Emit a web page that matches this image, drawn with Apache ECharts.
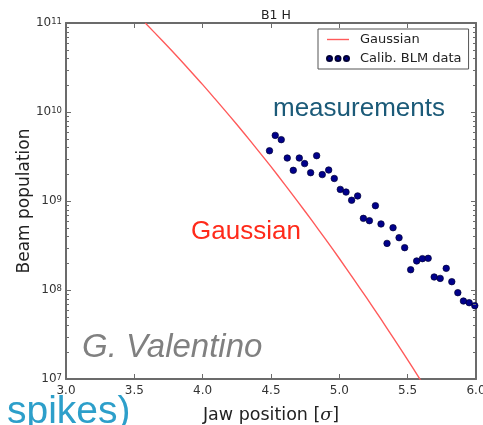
<!DOCTYPE html>
<html>
<head>
<meta charset="utf-8">
<script src="https://cdn.jsdelivr.net/npm/echarts@6/dist/echarts.min.js"></script>
<style>html,body{margin:0;padding:0;background:#fff;}#c{width:483px;height:425px;}</style>
</head>
<body>
<div id="c"></div>
<script>
// ---- data ----
const xTicks = [3.0, 3.5, 4.0, 4.5, 5.0, 5.5, 6.0];
const yTicks = [1e7, 1e8, 1e9, 1e10, 1e11];
const minorMultipliers = [2, 3, 4, 5, 6, 7, 8, 9];

const gaussX = [3.58, 3.7, 3.8, 3.9, 4.0, 4.1, 4.2, 4.3, 4.4, 4.5, 4.6, 4.7, 4.8, 4.9, 5.0, 5.1, 5.2, 5.3, 5.4, 5.5, 5.6];
const gaussY = [1.0e11, 6.44e10, 4.43e10, 3.01e10, 2.03e10, 1.35e10, 8.94e9, 5.85e9, 3.78e9, 2.43e9, 1.54e9, 9.66e8, 6.01e8, 3.70e8, 2.26e8, 1.36e8, 8.14e7, 4.82e7, 2.82e7, 1.64e7, 9.4e6];

const blmX = [4.489, 4.531, 4.575, 4.619, 4.663, 4.707, 4.746, 4.790, 4.834, 4.875, 4.922, 4.963,
              5.007, 5.049, 5.090, 5.134, 5.176, 5.220, 5.264, 5.305, 5.349, 5.393, 5.437, 5.478,
              5.522, 5.566, 5.608, 5.650, 5.694, 5.738, 5.782, 5.823, 5.867, 5.908, 5.950, 5.991];
const blmY = [3.67e9, 5.46e9, 4.89e9, 3.04e9, 2.21e9, 3.04e9, 2.63e9, 2.08e9, 3.23e9, 1.98e9, 2.23e9, 1.79e9,
              1.35e9, 1.26e9, 1.02e9, 1.14e9, 6.38e8, 6.01e8, 8.86e8, 5.52e8, 3.34e8, 5.01e8, 3.87e8, 2.99e8,
              1.69e8, 2.12e8, 2.25e8, 2.27e8, 1.40e8, 1.35e8, 1.75e8, 1.24e8, 9.33e7, 7.52e7, 7.20e7, 6.67e7];

const seriesNames = ['Gaussian', 'Calib. BLM data'];
const titleText = 'B1 H';
const xName = 'Jaw position [{i|σ}]';
const yName = 'Beam population';

// ---- chart ----
const chart = echarts.init(document.getElementById('c'), null, {renderer: 'canvas'});
const FONT = 'DejaVu Sans';
const axisCol = '#6b6b6b';
const gaussPts = gaussX.map((x, i) => [x, gaussY[i]]);
const blmPts = blmX.map((x, i) => [x, blmY[i]]);
const minorVals = [];
yTicks.slice(0, -1).forEach(d => minorMultipliers.forEach(m => minorVals.push([xTicks[0], d * m])));

function expLabel(v) {
  const e = Math.round(Math.log10(v));
  return '{b|10}{s|' + e + '}';
}

const commonX = {
  type: 'value', min: xTicks[0], max: xTicks[xTicks.length - 1], interval: 0.5,
  axisLine: {show: true, onZero: false, lineStyle: {color: axisCol, width: 2}},
  axisTick: {show: true, inside: true, length: 5, lineStyle: {color: axisCol, width: 1}},
  splitLine: {show: false}
};
const commonY = {
  type: 'log', logBase: 10, min: yTicks[0], max: yTicks[yTicks.length - 1],
  axisLine: {show: true, onZero: false, lineStyle: {color: axisCol, width: 2}},
  axisTick: {show: true, inside: true, length: 5, lineStyle: {color: axisCol, width: 1}},
  splitLine: {show: false}
};

const option = {
  backgroundColor: '#ffffff',
  animation: false,
  title: {
    text: titleText, left: 271, top: 4, textAlign: 'center',
    textStyle: {fontFamily: FONT, fontSize: 12.5, fontWeight: 'normal', color: '#222'}
  },
  grid: {left: 66, right: 7, top: 23, bottom: 46, containLabel: false, outerBoundsMode: 'none'},
  legend: {
    orient: 'vertical', left: 318, top: 29,
    backgroundColor: '#fff', borderColor: '#555', borderWidth: 1, borderRadius: 0,
    padding: [4, 7, 4, 8], itemGap: 6, itemWidth: 22, itemHeight: 8,
    textStyle: {fontFamily: FONT, fontSize: 13, color: '#222', padding: [0, 0, 0, 6]},
    data: [
      {name: seriesNames[0], icon: 'path://M0,0H22V1.4H0Z', itemStyle: {color: '#ff5a5a'}},
      {name: seriesNames[1], icon: 'path://M0,2.5a2.5,2.5 0 1,0 5,0a2.5,2.5 0 1,0 -5,0M8.5,2.5a2.5,2.5 0 1,0 5,0a2.5,2.5 0 1,0 -5,0M17,2.5a2.5,2.5 0 1,0 5,0a2.5,2.5 0 1,0 -5,0'}
    ]
  },
  xAxis: [
    Object.assign({}, commonX, {
      position: 'bottom',
      axisLabel: {show: true, margin: 6, fontFamily: FONT, fontSize: 12, color: '#333',
        formatter: v => v.toFixed(1)},
      name: xName, nameLocation: 'middle', nameGap: 27, nameMoveOverlap: false,
      nameTextStyle: {fontFamily: FONT, fontSize: 17.5, color: '#222',
        rich: {i: {fontFamily: 'DejaVu Serif', fontStyle: 'italic', fontSize: 17.5, color: '#222'}}}
    }),
    Object.assign({}, commonX, {position: 'top', axisLabel: {show: false}})
  ],
  yAxis: [
    Object.assign({}, commonY, {
      position: 'left',
      axisLabel: {show: true, margin: 4, formatter: expLabel,
        rich: {
          b: {fontFamily: FONT, fontSize: 12, color: '#333', verticalAlign: 'bottom'},
          s: {fontFamily: FONT, fontSize: 8.5, color: '#333', verticalAlign: 'top'}
        }},
      name: yName, nameLocation: 'middle', nameGap: 33, nameMoveOverlap: false,
      nameTextStyle: {fontFamily: FONT, fontSize: 17, color: '#222'}
    }),
    Object.assign({}, commonY, {position: 'right', axisLabel: {show: false}})
  ],
  series: [
    {
      name: seriesNames[0], type: 'line', data: gaussPts, showSymbol: false, symbol: 'none',
      clip: true, smooth: 0.3, xAxisIndex: 0, yAxisIndex: 0,
      lineStyle: {color: '#ff5a5a', width: 1.4}, itemStyle: {color: '#ff5a5a'}, z: 3
    },
    {
      name: seriesNames[1], type: 'scatter', data: blmPts, symbol: 'circle', symbolSize: 6.5,
      clip: false, xAxisIndex: 0, yAxisIndex: 0,
      itemStyle: {color: '#00008b', borderColor: '#000033', borderWidth: 0.7, opacity: 1}, z: 4
    },
    {
      name: 'minorTicks', type: 'custom', data: minorVals, xAxisIndex: 0, yAxisIndex: 0,
      silent: true, z: 5, clip: false,
      renderItem: function (params, api) {
        const cs = params.coordSys;
        const p = api.coord([api.value(0), api.value(1)]);
        const y = Math.round(p[1]) + 0.5;
        const st = {stroke: axisCol, lineWidth: 1};
        return {type: 'group', children: [
          {type: 'line', shape: {x1: cs.x, y1: y, x2: cs.x + 3, y2: y}, style: st},
          {type: 'line', shape: {x1: cs.x + cs.width - 3, y1: y, x2: cs.x + cs.width, y2: y}, style: st}
        ]};
      }
    }
  ],
  graphic: [
    {type: 'text', left: 273, top: 96, z: 10,
      style: {text: 'measurements', font: '26px "Liberation Sans"', fill: '#1b5a78'}},
    {type: 'text', left: 191, top: 219, z: 10,
      style: {text: 'Gaussian', font: '26px "Liberation Sans"', fill: '#ff2a1a'}},
    {type: 'text', left: 82, top: 331, z: 10,
      style: {text: 'G. Valentino', font: 'italic 33px "Liberation Sans"', fill: '#808080'}},
    {type: 'text', left: 7, top: 393, z: 10,
      style: {text: 'spikes)', font: '39px "Liberation Sans"', fill: '#2d9fca'}}
  ]
};
chart.setOption(option);
</script>
</body>
</html>
